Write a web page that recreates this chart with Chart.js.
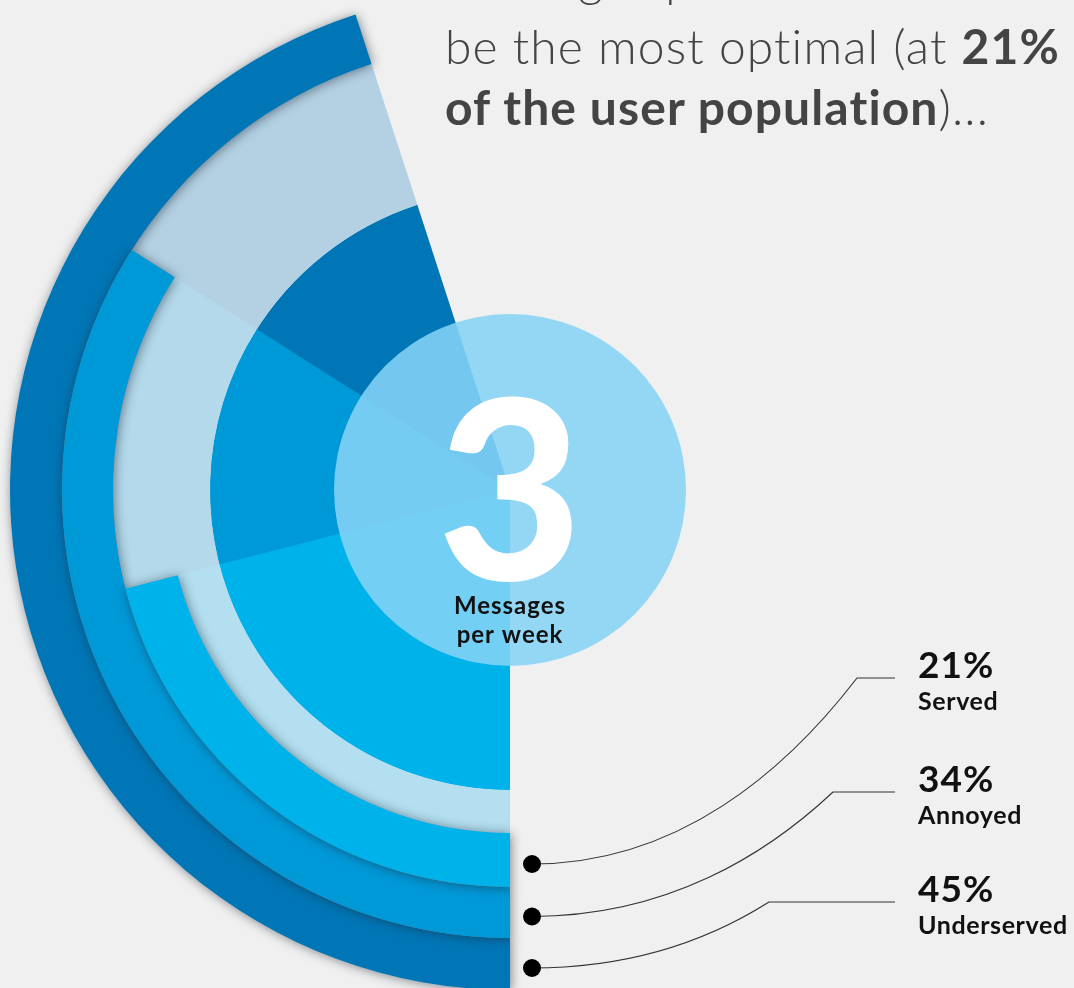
<!DOCTYPE html>
<html>
<head>
<meta charset="utf-8">
<script src="https://cdn.jsdelivr.net/npm/chart.js@4.4.1/dist/chart.umd.min.js"></script>
<style>
  html, body { margin: 0; padding: 0; background: #f0f0f0; width: 1074px; height: 988px; overflow: hidden; }
  #stage { position: relative; width: 1074px; height: 988px; overflow: hidden; }
  .layer { position: absolute; left: 0; top: -10px; width: 1020px; height: 1000px; }
  #text { position: absolute; left: 0; top: 0; width: 1074px; height: 988px; pointer-events: none; }
</style>
</head>
<body>
<div id="stage">
  <canvas class="layer" id="layer-underserved" width="1020" height="1000"></canvas>
  <canvas class="layer" id="layer-annoyed" width="1020" height="1000"></canvas>
  <canvas class="layer" id="layer-served" width="1020" height="1000"></canvas>
  <svg id="text" xmlns="http://www.w3.org/2000/svg" width="1074" height="988"></svg>
</div>
<script>
// ---- data ----
const categories = ['Served', 'Annoyed', 'Underserved'];
const shares = [21, 34, 45];              // % of the user population
const messagesPerWeek = 3;
const centerCaption = ['Messages', 'per week'];
const headline = [
  [['messages per week was found to', false]],
  [['be the most optimal (at ', false], ['21%', true]],
  [['of the user population', true], [')...', false]]
];

// ---- styling / geometry ----
const BAND = ['#00b2ea', '#0099d8', '#0076b6'];
const HALO = ['#b3dff0', '#b3d9eb', '#b3d1e3'];
const RING = { core: 300, bandInner: [343, 397, 448], outer: [397, 448, 500], badge: 176 };
const CANVAS_TOP = -10;
const FONT = 'Lato, "Open Sans", sans-serif';
const LEADER = { dotX: 532, dotR: 9, kneeX: [857, 833, 769], kneeY: [678, 792, 902], endX: 895 };
const LABEL_X = 918;

// soft drop shadow under the outer band of each layer
const bandShadow = {
  id: 'bandShadow',
  beforeDatasetDraw(chart, args) {
    if (args.index !== 0) return;
    const ctx = chart.ctx;
    ctx.save();
    ctx.shadowColor = 'rgba(30,40,55,0.55)';
    ctx.shadowBlur = 11;
    ctx.shadowOffsetX = 1;
    ctx.shadowOffsetY = 1;
  },
  afterDatasetDraw(chart, args) {
    if (args.index === 0) chart.ctx.restore();
  }
};

// translucent badge with the weekly count, plus leader lines to the labels
const badgeAndLeaders = {
  id: 'badgeAndLeaders',
  afterDraw(chart) {
    const ctx = chart.ctx;
    const core = chart.getDatasetMeta(2).data[0];
    const cx = core.x, cy = core.y;
    const scale = core.outerRadius / RING.core;
    ctx.save();
    ctx.beginPath();
    ctx.arc(cx, cy, RING.badge * scale, 0, Math.PI * 2);
    ctx.fillStyle = 'rgba(133,211,246,0.87)';
    ctx.fill();

    ctx.textAlign = 'center';
    ctx.textBaseline = 'alphabetic';
    ctx.fillStyle = '#ffffff';
    ctx.font = '900 250px ' + FONT;
    ctx.fillText(String(messagesPerWeek), cx, cy + 90);
    ctx.fillStyle = '#111111';
    ctx.font = '700 24px ' + FONT;
    if ('letterSpacing' in ctx) ctx.letterSpacing = '1px';
    ctx.fillText(centerCaption[0], cx, cy + 124);
    ctx.fillText(centerCaption[1], cx, cy + 153);
    if ('letterSpacing' in ctx) ctx.letterSpacing = '0px';

    // leader lines: one per layer, starting at the middle of its outer band
    ctx.strokeStyle = '#333';
    ctx.lineWidth = 1.1;
    categories.forEach((_, i) => {
      const dy = cy + (RING.bandInner[i] + RING.outer[i]) / 2 * scale + 4;
      const x0 = LEADER.dotX, kx = LEADER.kneeX[i], ky = LEADER.kneeY[i] - CANVAS_TOP;
      ctx.beginPath();
      ctx.moveTo(x0, dy);
      ctx.bezierCurveTo(x0 + 0.45 * (kx - x0), dy, kx - 0.22 * (kx - x0), ky + 0.5 * (dy - ky), kx, ky);
      ctx.lineTo(LEADER.endX, ky);
      ctx.stroke();
      ctx.beginPath();
      ctx.arc(x0, dy, LEADER.dotR, 0, Math.PI * 2);
      ctx.fillStyle = '#000';
      ctx.fill();
    });
    ctx.restore();
  }
};

function layerChart(id, i) {
  const rest = 100 - shares[i];
  const clear = 'rgba(0,0,0,0)';
  const ring = (color, weight) => ({
    data: [shares[i], rest],
    backgroundColor: [color, clear],
    borderWidth: 0,
    hoverOffset: 0,
    offset: 0,
    weight: weight
  });
  return new Chart(document.getElementById(id), {
    type: 'doughnut',
    data: {
      labels: [categories[i], ''],
      datasets: [
        ring(BAND[i], RING.outer[i] - RING.bandInner[i]),
        ring(HALO[i], RING.bandInner[i] - RING.core),
        ring(BAND[i], RING.core)
      ]
    },
    options: {
      responsive: false,
      animation: false,
      events: [],
      rotation: 180,
      cutout: 0,
      radius: RING.outer[i],
      spacing: 0,
      layout: { padding: 0 },
      plugins: { legend: { display: false }, tooltip: { enabled: false } }
    },
    plugins: i === 0 ? [bandShadow, badgeAndLeaders] : [bandShadow]
  });
}

layerChart('layer-underserved', 2);
layerChart('layer-annoyed', 1);
layerChart('layer-served', 0);

// ---- text ----
const NS = 'http://www.w3.org/2000/svg';
const svg = document.getElementById('text');
function addText(x, y, parts, size, fill, spacing) {
  const t = document.createElementNS(NS, 'text');
  t.setAttribute('x', x);
  t.setAttribute('y', y);
  t.setAttribute('font-size', size);
  t.setAttribute('fill', fill);
  t.setAttribute('font-family', FONT);
  t.setAttribute('letter-spacing', spacing);
  parts.forEach(([str, bold]) => {
    const s = document.createElementNS(NS, 'tspan');
    s.setAttribute('font-weight', bold ? 700 : 300);
    s.textContent = str;
    t.appendChild(s);
  });
  svg.appendChild(t);
}
const headY = [-3, 64, 125];
headline.forEach((parts, k) => addText(445, headY[k], parts, 48, '#444', 1.1));
categories.forEach((name, i) => {
  addText(LABEL_X, LEADER.kneeY[i], [[shares[i] + '%', true]], 37, '#111', 1);
  addText(LABEL_X, LEADER.kneeY[i] + 32, [[name, true]], 25, '#111', 0.6);
});
</script>
</body>
</html>
